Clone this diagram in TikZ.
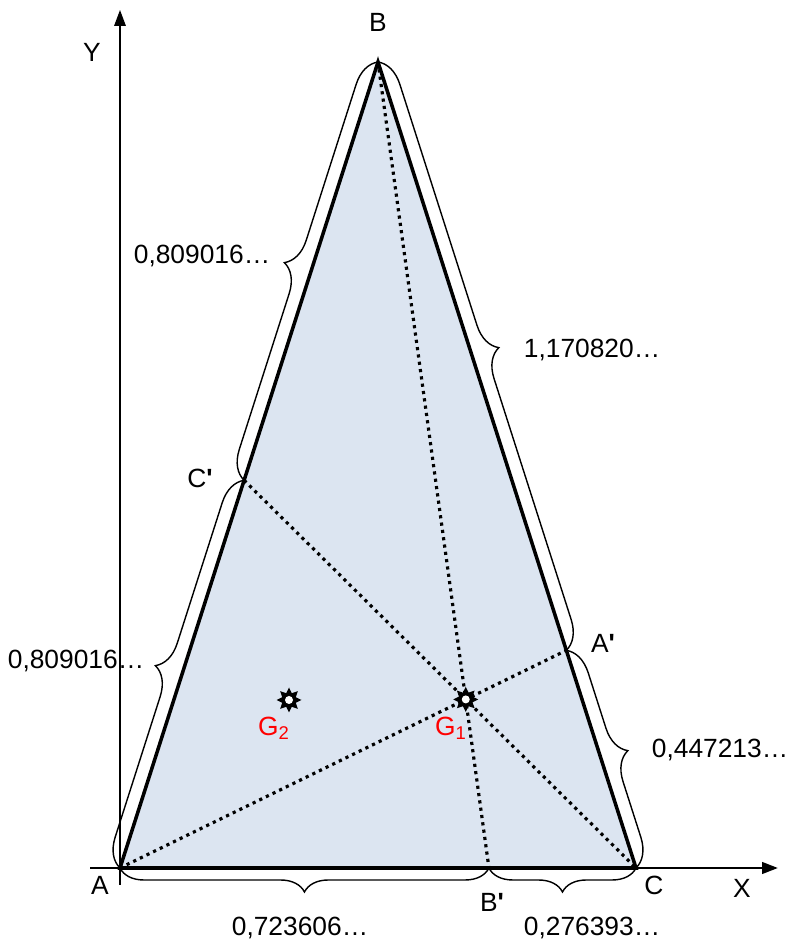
\documentclass[tikz,border=0pt]{standalone}
\usepackage{fontspec}
\setmainfont{Liberation Sans}
\usetikzlibrary{arrows.meta, calc, decorations.pathreplacing, shapes.geometric}

\definecolor{trifill}{RGB}{220,229,241}
\tikzset{
  brc/.style={decorate, decoration={brace, amplitude=#1}, line width=0.8pt},
  brc/.default=0.56cm,
  med/.style={line width=1.8pt, dash pattern=on 1.8pt off 2.4pt},
  lbl/.style={font=\fontsize{15}{18}\selectfont, inner sep=0pt},
  grav/.style={star, star points=8, star point ratio=1.7, fill=black, inner sep=0pt, minimum size=0.5cm}
}

\begin{document}
\begin{tikzpicture}[x=0.02cm, y=0.02cm, >={Triangle[length=9pt, width=6.5pt]}]
  \useasboundingbox (0,0) rectangle (786,943);
  \coordinate (A) at (120,75);
  \coordinate (B) at (378,881);
  \coordinate (C) at (636,75);
  \coordinate (Cp) at ($(A)!0.481!(B)$);
  \coordinate (Ap) at ($(B)!0.73!(C)$);
  \coordinate (Bp) at ($(A)!0.715!(C)$);
  \coordinate (G1) at (intersection of A--Ap and B--Bp);
  \coordinate (G2) at (289,243);
  \coordinate (X0) at (90,75);
  \coordinate (X1) at (778,75);
  \coordinate (Y0) at (120,58);
  \coordinate (Y1) at (120,933);

  \draw[->, line width=0.8pt] (Y0) -- (Y1);
  \filldraw[fill=trifill, line width=2pt] (A) -- (B) -- (C) -- cycle;
  \draw[->, line width=1.5pt] (X0) -- (X1);

  \draw[med] (A) -- (Ap);
  \draw[med] (Cp) -- (C);
  \draw[med] (B) -- (Bp);

  \draw[brc] (A) -- (Cp);
  \draw[brc] (Cp) -- (B);
  \draw[brc] (B) -- (Ap);
  \draw[brc] (Ap) -- (C);
  \draw[brc=0.48cm] (C) -- (Bp);
  \draw[brc=0.48cm] (Bp) -- (A);

  \node[grav] (s1) at (G1) {};
  \fill[white] (s1.center) circle (4);
  \node[grav] (s2) at (G2) {};
  \fill[white] (s2.center) circle (4);

  \node[lbl] (lA) at (100,58) {A};
  \node[lbl] (lB) at (378,921) {B};
  \node[lbl] (lC) at (654,58) {C};
  \node[lbl] (lX) at (742,55) {X};
  \node[lbl] (lY) at (92,891) {Y};
  \node[lbl] (lBp) at (492,41) {B\textbf{\textquotesingle}};
  \node[lbl] (lCp) at (200,465) {C\textbf{\textquotesingle}};
  \node[lbl] (lAp) at (603,300) {A\textbf{\textquotesingle}};
  \node[lbl, red] (lG1) at (451,215) {G\textsubscript{1}};
  \node[lbl, red] (lG2) at (274,215) {G\textsubscript{2}};

  \node[lbl] (dCpB) at (202,687) {0,809016…};
  \node[lbl] (dACp) at (76,282) {0,809016…};
  \node[lbl] (dBAp) at (592,593) {1,170820…};
  \node[lbl] (dApC) at (720,193) {0,447213…};
  \node[lbl] (dABp) at (300,15) {0,723606…};
  \node[lbl] (dBpC) at (592,15) {0,276393…};
\end{tikzpicture}
\end{document}
